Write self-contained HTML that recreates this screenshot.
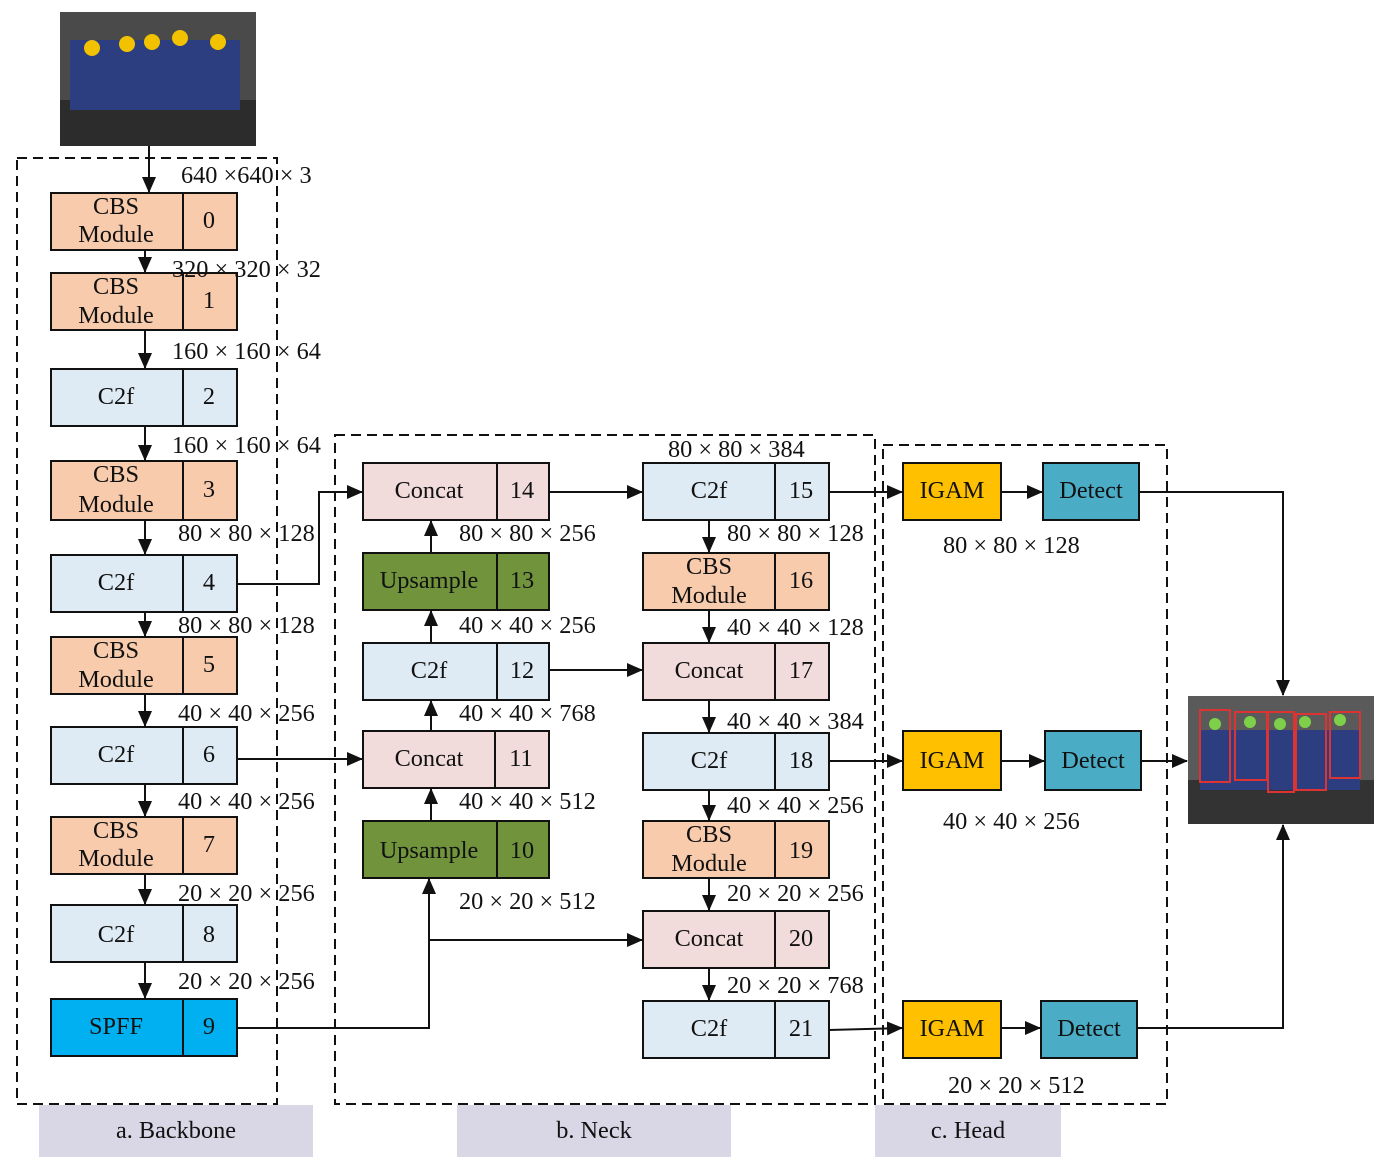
<!DOCTYPE html>
<html><head><meta charset="utf-8"><style>
html,body{margin:0;padding:0;background:#fff}
svg{display:block}
text{font-family:"Liberation Serif",serif;font-size:24.3px;fill:#111}
.b{stroke:#111;stroke-width:2}
.l{stroke:#111;stroke-width:2;fill:none}
.d{stroke:#111;stroke-width:2;fill:none;stroke-dasharray:10,6}
</style></head><body>
<svg width="1376" height="1162" viewBox="0 0 1376 1162" xmlns="http://www.w3.org/2000/svg">
<defs>
<marker id="A" markerWidth="16" markerHeight="14" refX="15" refY="7" orient="auto" markerUnits="userSpaceOnUse"><path d="M0,0 L16,7 L0,14 z" fill="#111"/></marker></defs>

<!-- top image -->
<rect x="60" y="12" width="196" height="134" fill="#4a4a4a"/>
<rect x="60" y="100" width="196" height="46" fill="#2c2c2c"/>
<rect x="70" y="40" width="170" height="70" fill="#2d3e80"/>
<g fill="#f2c200"><circle cx="92" cy="48" r="8"/><circle cx="127" cy="44" r="8"/><circle cx="152" cy="42" r="8"/><circle cx="180" cy="38" r="8"/><circle cx="218" cy="42" r="8"/></g>

<!-- dashed regions -->
<rect class="d" x="17" y="158" width="260" height="946"/>
<rect class="d" x="335" y="435" width="540" height="669"/>
<rect class="d" x="883" y="445" width="284" height="659"/>

<!-- label bars -->
<rect x="39" y="1105" width="274" height="52" fill="#d9d6e6"/>
<rect x="457" y="1105" width="274" height="52" fill="#d9d6e6"/>
<rect x="875" y="1105" width="186" height="52" fill="#d9d6e6"/>
<text x="176" y="1138" text-anchor="middle">a. Backbone</text>
<text x="594" y="1138" text-anchor="middle">b. Neck</text>
<text x="968" y="1138" text-anchor="middle">c. Head</text>

<!-- backbone arrows -->
<g class="l" marker-end="url(#A)">
<line x1="149" y1="146" x2="149" y2="192"/>
<line x1="145" y1="250" x2="145" y2="272"/>
<line x1="145" y1="330" x2="145" y2="368"/>
<line x1="145" y1="426" x2="145" y2="460"/>
<line x1="145" y1="520" x2="145" y2="554"/>
<line x1="145" y1="612" x2="145" y2="636"/>
<line x1="145" y1="694" x2="145" y2="726"/>
<line x1="145" y1="784" x2="145" y2="816"/>
<line x1="145" y1="874" x2="145" y2="904"/>
<line x1="145" y1="962" x2="145" y2="998"/>
</g>

<!-- backbone boxes -->
<g class="b">
<rect x="51" y="193" width="186" height="57" fill="#f8cbad"/><line x1="183" y1="193" x2="183" y2="250"/>
<rect x="51" y="273" width="186" height="57" fill="#f8cbad"/><line x1="183" y1="273" x2="183" y2="330"/>
<rect x="51" y="369" width="186" height="57" fill="#deebf4"/><line x1="183" y1="369" x2="183" y2="426"/>
<rect x="51" y="461" width="186" height="59" fill="#f8cbad"/><line x1="183" y1="461" x2="183" y2="520"/>
<rect x="51" y="555" width="186" height="57" fill="#deebf4"/><line x1="183" y1="555" x2="183" y2="612"/>
<rect x="51" y="637" width="186" height="57" fill="#f8cbad"/><line x1="183" y1="637" x2="183" y2="694"/>
<rect x="51" y="727" width="186" height="57" fill="#deebf4"/><line x1="183" y1="727" x2="183" y2="784"/>
<rect x="51" y="817" width="186" height="57" fill="#f8cbad"/><line x1="183" y1="817" x2="183" y2="874"/>
<rect x="51" y="905" width="186" height="57" fill="#deebf4"/><line x1="183" y1="905" x2="183" y2="962"/>
<rect x="51" y="999" width="186" height="57" fill="#00b0f0"/><line x1="183" y1="999" x2="183" y2="1056"/>
</g>
<g text-anchor="middle">
<text x="116" y="214">CBS</text><text x="116" y="242">Module</text><text x="209" y="228">0</text>
<text x="116" y="294">CBS</text><text x="116" y="323">Module</text><text x="209" y="308">1</text>
<text x="116" y="404">C2f</text><text x="209" y="404">2</text>
<text x="116" y="482">CBS</text><text x="116" y="512">Module</text><text x="209" y="497">3</text>
<text x="116" y="590">C2f</text><text x="209" y="590">4</text>
<text x="116" y="658">CBS</text><text x="116" y="687">Module</text><text x="209" y="672">5</text>
<text x="116" y="762">C2f</text><text x="209" y="762">6</text>
<text x="116" y="838">CBS</text><text x="116" y="866">Module</text><text x="209" y="852">7</text>
<text x="116" y="942">C2f</text><text x="209" y="942">8</text>
<text x="116" y="1034">SPFF</text><text x="209" y="1034">9</text>
</g>
<g>
<text x="181" y="183">640 ×640 × 3</text>
<text x="172" y="277">320 × 320 × 32</text>
<text x="172" y="359">160 × 160 × 64</text>
<text x="172" y="453">160 × 160 × 64</text>
<text x="178" y="541">80 × 80 × 128</text>
<text x="178" y="633">80 × 80 × 128</text>
<text x="178" y="721">40 × 40 × 256</text>
<text x="178" y="809">40 × 40 × 256</text>
<text x="178" y="901">20 × 20 × 256</text>
<text x="178" y="989">20 × 20 × 256</text>
</g>

<!-- neck connectors -->
<g class="l" marker-end="url(#A)">
<polyline points="237,584 319,584 319,492 362,492"/>
<line x1="237" y1="759" x2="362" y2="759"/>
<polyline points="237,1028 429,1028 429,879"/>
<polyline points="429,940 642,940"/>
<line x1="431" y1="820" x2="431" y2="789"/>
<line x1="431" y1="730" x2="431" y2="701"/>
<line x1="431" y1="642" x2="431" y2="611"/>
<line x1="431" y1="552" x2="431" y2="521"/>
<line x1="549" y1="492" x2="642" y2="492"/>
<line x1="549" y1="670" x2="642" y2="670"/>
<line x1="709" y1="520" x2="709" y2="552"/>
<line x1="709" y1="610" x2="709" y2="642"/>
<line x1="709" y1="700" x2="709" y2="732"/>
<line x1="709" y1="790" x2="709" y2="820"/>
<line x1="709" y1="878" x2="709" y2="910"/>
<line x1="709" y1="968" x2="709" y2="1000"/>
<line x1="829" y1="492" x2="902" y2="492"/>
<line x1="829" y1="761" x2="902" y2="761"/>
<line x1="829" y1="1030" x2="902" y2="1028"/>
<line x1="1001" y1="492" x2="1042" y2="492"/>
<line x1="1001" y1="761" x2="1044" y2="761"/>
<line x1="1001" y1="1028" x2="1040" y2="1028"/>
<line x1="1141" y1="761" x2="1187" y2="761"/>
<polyline points="1139,492 1283,492 1283,695"/>
<polyline points="1137,1028 1283,1028 1283,825"/>
</g>

<!-- neck boxes -->
<g class="b">
<rect x="363" y="463" width="186" height="57" fill="#f2dcdb"/><line x1="497" y1="463" x2="497" y2="520"/>
<rect x="363" y="553" width="186" height="57" fill="#70933c"/><line x1="497" y1="553" x2="497" y2="610"/>
<rect x="363" y="643" width="186" height="57" fill="#deebf4"/><line x1="497" y1="643" x2="497" y2="700"/>
<rect x="363" y="731" width="186" height="57" fill="#f2dcdb"/><line x1="495" y1="731" x2="495" y2="788"/>
<rect x="363" y="821" width="186" height="57" fill="#70933c"/><line x1="497" y1="821" x2="497" y2="878"/>
<rect x="643" y="463" width="186" height="57" fill="#deebf4"/><line x1="775" y1="463" x2="775" y2="520"/>
<rect x="643" y="553" width="186" height="57" fill="#f8cbad"/><line x1="775" y1="553" x2="775" y2="610"/>
<rect x="643" y="643" width="186" height="57" fill="#f2dcdb"/><line x1="775" y1="643" x2="775" y2="700"/>
<rect x="643" y="733" width="186" height="57" fill="#deebf4"/><line x1="775" y1="733" x2="775" y2="790"/>
<rect x="643" y="821" width="186" height="57" fill="#f8cbad"/><line x1="775" y1="821" x2="775" y2="878"/>
<rect x="643" y="911" width="186" height="57" fill="#f2dcdb"/><line x1="775" y1="911" x2="775" y2="968"/>
<rect x="643" y="1001" width="186" height="57" fill="#deebf4"/><line x1="775" y1="1001" x2="775" y2="1058"/>
<rect x="903" y="463" width="98" height="57" fill="#ffc000"/>
<rect x="1043" y="463" width="96" height="57" fill="#4bacc6"/>
<rect x="903" y="731" width="98" height="59" fill="#ffc000"/>
<rect x="1045" y="731" width="96" height="59" fill="#4bacc6"/>
<rect x="903" y="1001" width="98" height="57" fill="#ffc000"/>
<rect x="1041" y="1001" width="96" height="57" fill="#4bacc6"/>
</g>
<g text-anchor="middle">
<text x="429" y="498">Concat</text><text x="522" y="498">14</text>
<text x="429" y="588">Upsample</text><text x="522" y="588">13</text>
<text x="429" y="678">C2f</text><text x="522" y="678">12</text>
<text x="429" y="766">Concat</text><text x="521" y="766">11</text>
<text x="429" y="858">Upsample</text><text x="522" y="858">10</text>
<text x="709" y="498">C2f</text><text x="801" y="498">15</text>
<text x="709" y="574">CBS</text><text x="709" y="603">Module</text><text x="801" y="588">16</text>
<text x="709" y="678">Concat</text><text x="801" y="678">17</text>
<text x="709" y="768">C2f</text><text x="801" y="768">18</text>
<text x="709" y="842">CBS</text><text x="709" y="871">Module</text><text x="801" y="858">19</text>
<text x="709" y="946">Concat</text><text x="801" y="946">20</text>
<text x="709" y="1036">C2f</text><text x="801" y="1036">21</text>
<text x="952" y="498">IGAM</text><text x="1091" y="498">Detect</text>
<text x="952" y="768">IGAM</text><text x="1093" y="768">Detect</text>
<text x="952" y="1036">IGAM</text><text x="1089" y="1036">Detect</text>
</g>
<g>
<text x="668" y="457">80 × 80 × 384</text>
<text x="459" y="541">80 × 80 × 256</text>
<text x="459" y="633">40 × 40 × 256</text>
<text x="459" y="721">40 × 40 × 768</text>
<text x="459" y="809">40 × 40 × 512</text>
<text x="459" y="909">20 × 20 × 512</text>
<text x="727" y="541">80 × 80 × 128</text>
<text x="727" y="635">40 × 40 × 128</text>
<text x="727" y="729">40 × 40 × 384</text>
<text x="727" y="813">40 × 40 × 256</text>
<text x="727" y="901">20 × 20 × 256</text>
<text x="727" y="993">20 × 20 × 768</text>
<text x="943" y="553">80 × 80 × 128</text>
<text x="943" y="829">40 × 40 × 256</text>
<text x="948" y="1093">20 × 20 × 512</text>
</g>

<!-- output image -->
<rect x="1188" y="696" width="186" height="128" fill="#5a5a5a"/>
<rect x="1188" y="780" width="186" height="44" fill="#333"/>
<rect x="1200" y="730" width="160" height="60" fill="#2d3e80"/>
<g fill="none" stroke="#d33" stroke-width="2">
<rect x="1200" y="710" width="30" height="72"/><rect x="1235" y="712" width="32" height="68"/><rect x="1268" y="712" width="26" height="80"/><rect x="1296" y="714" width="30" height="76"/><rect x="1330" y="712" width="30" height="66"/></g>
<g fill="#7ed04a"><circle cx="1215" cy="724" r="6"/><circle cx="1250" cy="722" r="6"/><circle cx="1280" cy="724" r="6"/><circle cx="1305" cy="722" r="6"/><circle cx="1340" cy="720" r="6"/></g>
</svg>
</body></html>
